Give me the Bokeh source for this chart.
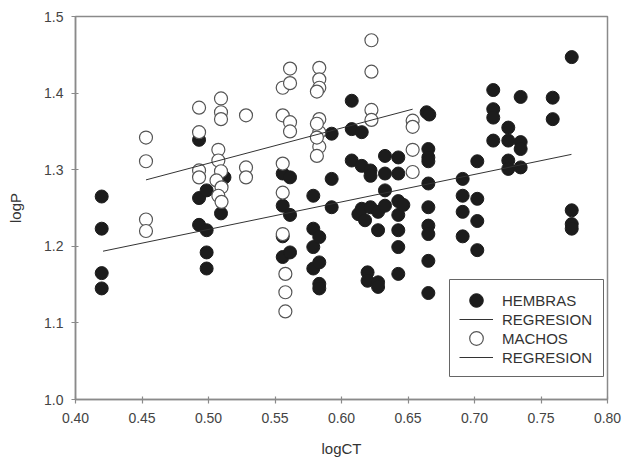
from bokeh.plotting import figure
from bokeh.models import Range1d, Legend, LegendItem, FixedTicker, BoxAnnotation
from bokeh.embed import file_html
from bokeh.resources import INLINE

# ---- data ----
hembras_x = [0.4197, 0.4197, 0.4197, 0.4197,
             0.4929, 0.4929, 0.4929,
             0.4986, 0.4986, 0.4986, 0.4986,
             0.5094, 0.5120,
             0.5558, 0.5558, 0.5558, 0.5558,
             0.5613, 0.5613, 0.5613,
             0.5788, 0.5788, 0.5788, 0.5788,
             0.5833, 0.5833, 0.5833, 0.5833,
             0.5926, 0.5926, 0.5926,
             0.6077, 0.6077, 0.6077,
             0.6127,
             0.6152, 0.6152, 0.6152,
             0.6177,
             0.6196, 0.6196,
             0.6218, 0.6218, 0.6218,
             0.6275, 0.6275, 0.6275, 0.6275,
             0.6327, 0.6327, 0.6327, 0.6327,
             0.6427, 0.6427, 0.6427, 0.6427, 0.6427, 0.6427, 0.6427, 0.6465,
             0.6640, 0.6660, 0.6653, 0.6653, 0.6653, 0.6653, 0.6653, 0.6653, 0.6653, 0.6653, 0.6653,
             0.6911, 0.6911, 0.6911, 0.6911,
             0.7021, 0.7021, 0.7021, 0.7021,
             0.7141, 0.7141, 0.7141, 0.7141,
             0.7254, 0.7254, 0.7254, 0.7254,
             0.7347, 0.7347, 0.7347, 0.7347,
             0.7588, 0.7588,
             0.7731, 0.7731, 0.7731, 0.7731]
hembras_y = [1.265, 1.223, 1.165, 1.145,
             1.339, 1.263, 1.228,
             1.273, 1.221, 1.192, 1.171,
             1.243, 1.290,
             1.295, 1.253, 1.213, 1.186,
             1.290, 1.241, 1.192,
             1.266, 1.223, 1.199, 1.171,
             1.212, 1.179, 1.151, 1.145,
             1.347, 1.288, 1.251,
             1.390, 1.353, 1.312,
             1.242,
             1.349, 1.305, 1.249,
             1.234,
             1.166, 1.155,
             1.299, 1.292, 1.251,
             1.245, 1.221, 1.153, 1.147,
             1.318, 1.295, 1.273, 1.253,
             1.316, 1.295, 1.259, 1.241, 1.221, 1.199, 1.164, 1.254,
             1.375, 1.372, 1.327, 1.316, 1.311, 1.282, 1.251, 1.227, 1.216, 1.181, 1.139,
             1.288, 1.266, 1.245, 1.213,
             1.311, 1.262, 1.233, 1.195,
             1.404, 1.379, 1.368, 1.338,
             1.355, 1.338, 1.312, 1.301,
             1.395, 1.336, 1.327, 1.303,
             1.394, 1.366,
             1.447, 1.247, 1.229, 1.223]

machos_x = [0.4530, 0.4530, 0.4530, 0.4530,
            0.4929, 0.4929, 0.4929, 0.4929,
            0.5094, 0.5094, 0.5094, 0.5074, 0.5074, 0.5094, 0.5060, 0.5098, 0.5074, 0.5098,
            0.5282, 0.5282, 0.5282,
            0.5558, 0.5558, 0.5558, 0.5558, 0.5558,
            0.5613, 0.5613, 0.5613, 0.5613,
            0.5578, 0.5578, 0.5578,
            0.5833, 0.5833, 0.5833, 0.5833, 0.5833, 0.5833,
            0.5815, 0.5815, 0.5815, 0.5815,
            0.6225, 0.6225, 0.6225, 0.6225,
            0.6535, 0.6535, 0.6535, 0.6535]
machos_y = [1.342, 1.311, 1.235, 1.220,
            1.381, 1.349, 1.299, 1.290,
            1.393, 1.375, 1.366, 1.326, 1.312, 1.298, 1.286, 1.277, 1.266, 1.258,
            1.371, 1.303, 1.290,
            1.407, 1.371, 1.308, 1.270, 1.216,
            1.432, 1.413, 1.362, 1.350,
            1.164, 1.140, 1.115,
            1.433, 1.418, 1.407, 1.349, 1.330, 1.366,
            1.402, 1.360, 1.342, 1.318,
            1.469, 1.428, 1.378, 1.365,
            1.364, 1.356, 1.326, 1.297]

reg_hembras_x = [0.4207, 0.7729]
reg_hembras_y = [1.1936, 1.3200]
reg_machos_x = [0.4530, 0.6535]
reg_machos_y = [1.2867, 1.3790]

x_ticks = [0.40, 0.45, 0.50, 0.55, 0.60, 0.65, 0.70, 0.75, 0.80]
y_ticks = [1.0, 1.1, 1.2, 1.3, 1.4, 1.5]

FONT = "Liberation Sans"
AXC = "#8a8a8a"

p = figure(width=623, height=464, output_backend="svg", toolbar_location=None,
           x_range=Range1d(0.40, 0.80), y_range=Range1d(1.0, 1.5),
           min_border_left=75, min_border_right=16, min_border_top=16, min_border_bottom=65)
p.xgrid.visible = False
p.ygrid.visible = False
p.outline_line_color = AXC
p.outline_line_width = 1.5
p.background_fill_color = "white"
p.border_fill_color = "white"

r_h = p.scatter(x=hembras_x, y=hembras_y, marker="circle", size=13,
                fill_color="#1c1c1c", line_color="#1c1c1c", line_width=1)
r_m = p.scatter(x=machos_x, y=machos_y, marker="circle", size=13,
                fill_color="white", line_color="#555555", line_width=1.2)
l_h = p.line(x=reg_hembras_x, y=reg_hembras_y, line_color="#333333", line_width=1)
l_m = p.line(x=reg_machos_x, y=reg_machos_y, line_color="#333333", line_width=1)

for ax in (p.xaxis[0], p.yaxis[0]):
    ax.axis_line_color = AXC
    ax.axis_line_width = 1.5
    ax.major_tick_line_color = AXC
    ax.major_tick_line_width = 1.2
    ax.major_tick_out = 4
    ax.major_tick_in = 3
    ax.minor_tick_line_color = None
    ax.major_label_text_font = FONT
    ax.major_label_text_font_size = "14px"
    ax.major_label_text_color = "#444444"
    ax.axis_label_text_font = FONT
    ax.axis_label_text_font_size = "15px"
    ax.axis_label_text_font_style = "normal"
    ax.axis_label_text_color = "#333333"

p.xaxis[0].ticker = FixedTicker(ticks=x_ticks)
p.yaxis[0].ticker = FixedTicker(ticks=y_ticks)
p.xaxis[0].major_label_overrides = {t: f"{t:.2f}" for t in x_ticks}
p.yaxis[0].major_label_overrides = {t: f"{t:.1f}" for t in y_ticks}
p.xaxis[0].axis_label = "logCT"
p.yaxis[0].axis_label = "logP"
p.xaxis[0].major_label_standoff = 9
p.yaxis[0].major_label_standoff = 8
p.xaxis[0].axis_label_standoff = 14
p.yaxis[0].axis_label_standoff = 17

# legend frame (canvas pixels)
box = BoxAnnotation(left=449, right=603, top=279, bottom=376,
                    left_units="canvas", right_units="canvas",
                    top_units="canvas", bottom_units="canvas",
                    fill_color="white", fill_alpha=1.0,
                    line_color="#666666", line_width=1, line_alpha=1.0)
p.add_layout(box)


def style(lg):
    lg.label_text_font = FONT
    lg.label_text_font_size = "15px"
    lg.label_text_color = "#333333"
    lg.glyph_width = 34
    lg.glyph_height = 38
    lg.label_height = 38
    lg.label_standoff = 9
    lg.spacing = 0
    lg.padding = 1
    lg.margin = 0
    lg.border_line_color = None
    lg.background_fill_alpha = 0.0


legend_a = Legend(items=[LegendItem(label="HEMBRAS", renderers=[r_h]),
                         LegendItem(label="MACHOS", renderers=[r_m])],
                  location=(384, 42))
legend_b = Legend(items=[LegendItem(label="REGRESION", renderers=[l_h]),
                         LegendItem(label="REGRESION", renderers=[l_m])],
                  location=(384, 23))
style(legend_a)
style(legend_b)
p.add_layout(legend_a, "center")
p.add_layout(legend_b, "center")

open("out.html", "w").write(file_html(p, INLINE))
